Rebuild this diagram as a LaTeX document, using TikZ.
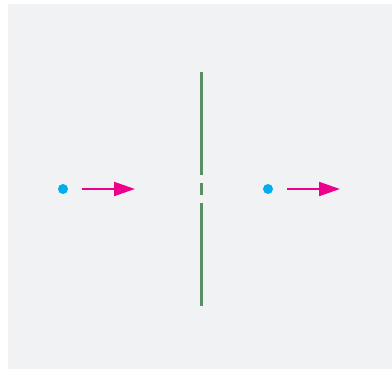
\documentclass[tikz,border=0pt]{standalone}
\usepackage{tikz}
\usetikzlibrary{positioning, arrows.meta}
\definecolor{panel}{RGB}{241,242,244}
\definecolor{screen}{RGB}{90,143,101}
\definecolor{dotblue}{RGB}{0,174,239}
\definecolor{arrpink}{RGB}{236,0,140}

\begin{document}
\begin{tikzpicture}[x=1pt, y=-1pt,
      dot/.style    = {circle, fill=dotblue, inner sep=0pt, minimum size=10pt},
      slit/.style   = {draw=screen, line width=3pt,
                       dash pattern=on 103pt off 8pt on 12pt off 8pt on 103pt},
      arr/.style    = {draw=arrpink, line width=2pt,
                       -{Triangle[length=21pt, width=14pt]}}]
    % frame and background panel
    \useasboundingbox (0,0) rectangle (392,369);
    \fill[panel] (8,4) rectangle (392,369);
    % screen with the two slits
    \coordinate (top) at (201,72);
    \coordinate (bot) at (201,306);
    \draw[slit] (top) -- (bot);
    % particle before and after the screen
    \node[dot] (p1) at (63,189) {};
    \node[dot] (p2) at (268,189) {};
    \coordinate (h1) at (135,189);
    \coordinate (h2) at (340,189);
    \draw[arr] ([xshift=14pt]p1.east) -- (h1);
    \draw[arr] ([xshift=14pt]p2.east) -- (h2);
\end{tikzpicture}
\end{document}
